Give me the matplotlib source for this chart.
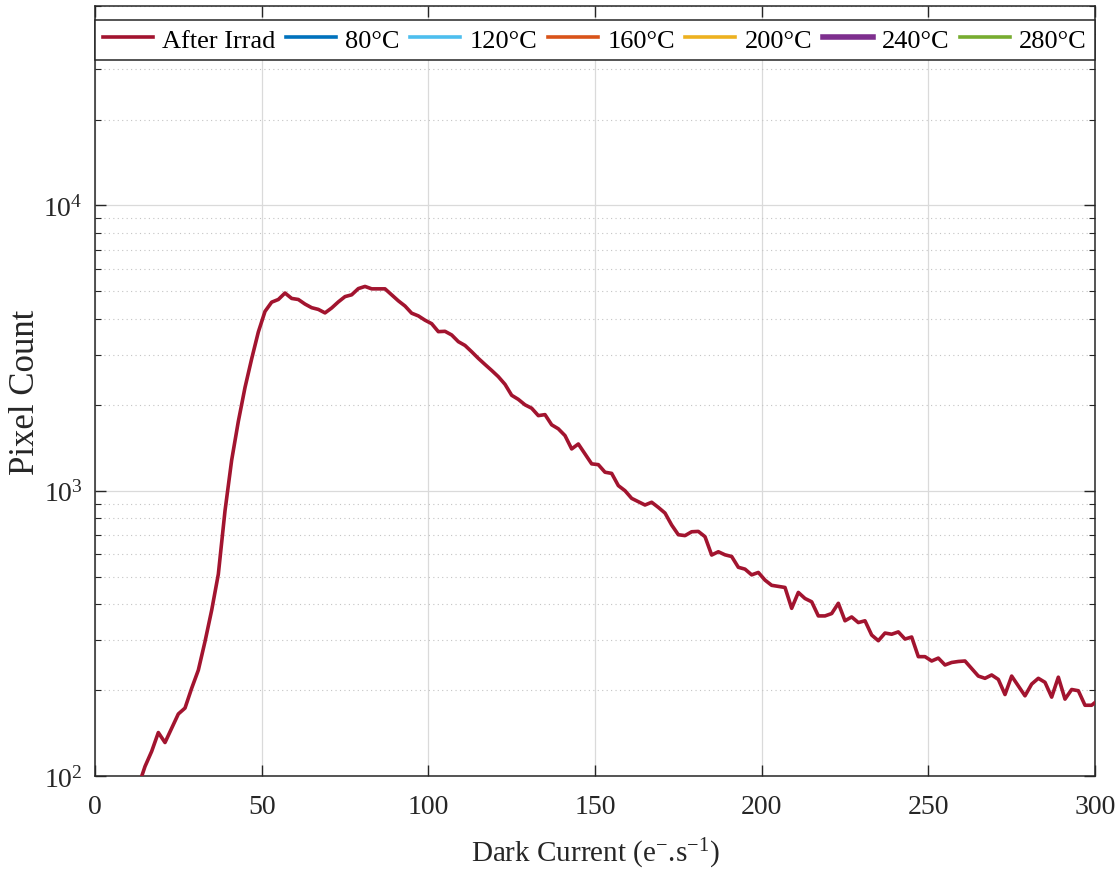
import matplotlib
matplotlib.use('Agg')
import matplotlib.pyplot as plt
from matplotlib.ticker import LogLocator, NullFormatter

plt.rcParams['font.family'] = ['Liberation Serif', 'DejaVu Serif']
plt.rcParams['mathtext.fontset'] = 'custom'
plt.rcParams['mathtext.rm'] = 'Liberation Serif'
plt.rcParams['mathtext.it'] = 'Liberation Serif:italic'

# ---------------- data ----------------
dark_current = [13, 15, 17, 19, 21, 23, 25, 27, 29, 31, 33, 35, 37, 39, 41, 43, 45, 47, 49,
                51, 53, 55, 57, 59, 61, 63, 65, 67, 69, 71, 73, 75, 77, 79, 81, 83, 85, 87, 89,
                91, 93, 95, 97, 99, 101, 103, 105, 107, 109, 111, 113, 115, 117, 119, 121, 123,
                125, 127, 129, 131, 133, 135, 137, 139, 141, 143, 145, 147, 149, 151, 153, 155,
                157, 159, 161, 163, 165, 167, 169, 171, 173, 175, 177, 179, 181, 183, 185, 187,
                189, 191, 193, 195, 197, 199, 201, 203, 205, 207, 209, 211, 213, 215, 217, 219,
                221, 223, 225, 227, 229, 231, 233, 235, 237, 239, 241, 243, 245, 247, 249, 251,
                253, 255, 257, 259, 261, 263, 265, 267, 269, 271, 273, 275, 277, 279, 281, 283,
                285, 287, 289, 291, 293, 295, 297, 299, 301]
pixel_count = [92, 108, 122, 142, 131, 147, 165, 173, 203, 235, 296, 381, 510, 850, 1280, 1750,
               2300, 2900, 3600, 4250, 4580, 4680, 4930, 4720, 4680, 4510, 4380, 4320, 4200,
               4370, 4590, 4790, 4860, 5110, 5200, 5100, 5100, 5100, 4860, 4630, 4440, 4190,
               4100, 3960, 3850, 3610, 3620, 3515, 3330, 3230, 3070, 2910, 2770, 2640, 2510,
               2360, 2160, 2090, 2000, 1946, 1833, 1848, 1702, 1648, 1560, 1401, 1458, 1346,
               1242, 1234, 1161, 1150, 1042, 1000, 940, 915, 891, 911, 874, 835, 758, 701, 696,
               718, 720, 690, 595, 611, 596, 588, 539, 531, 507, 517, 486, 466, 462, 458, 387,
               440, 419, 408, 364, 364, 371, 403, 350, 361, 345, 350, 312, 298, 317, 314, 320,
               302, 307, 262, 262, 253, 259, 245, 250, 252, 253, 238, 224, 220, 226, 218, 193,
               224, 207, 191, 210, 220, 213, 189, 222, 186, 201, 199, 177, 177, 185]

main_label = 'After Irrad'
anneal_labels = ['80°C', '120°C', '160°C', '200°C', '240°C', '280°C']
anneal_counts = [[], [], [], [], [], []]   # no annealing curves drawn in the figure
main_color = '#A2142F'
anneal_colors = ['#0072BD', '#4DBEEE', '#D95319', '#EDB120', '#7E2F8E', '#77AC30']
anneal_widths = [2.6, 2.6, 2.6, 2.6, 4.0, 2.6]

x_ticks = [0, 50, 100, 150, 200, 250, 300]

# ---------------- figure ----------------
W, H = 1115, 879
fig = plt.figure(figsize=(W / 100, H / 100), dpi=100)
ax = fig.add_axes([95 / W, 1 - 777 / H, 1000 / W, 770 / H])

ax.plot(dark_current, pixel_count, color=main_color, lw=2.6, label=main_label, zorder=3)
for lab, cnt, col, lw in zip(anneal_labels, anneal_counts, anneal_colors, anneal_widths):
    ax.plot(dark_current[:len(cnt)], cnt, color=col, lw=lw, label=lab)

ax.set_yscale('log')
ax.set_xlim(0, 300)
ax.set_ylim(100, 5e4)
ax.set_xticks(x_ticks)
ax.yaxis.set_major_locator(LogLocator(base=10, numticks=10))
ax.yaxis.set_minor_locator(LogLocator(base=10, subs=range(2, 10), numticks=20))
ax.yaxis.set_minor_formatter(NullFormatter())

ax.set_axisbelow(True)
ax.grid(True, which='major', color='#dadada', lw=0.9)
ax.grid(True, which='minor', axis='y', color='#c4c4c4', lw=0.8, linestyle=(0, (1, 3)))

ax.tick_params(which='both', direction='in', top=True, right=True,
               colors='#262626', labelsize=20)
ax.tick_params(which='major', length=8, width=1.0)
ax.tick_params(axis='x', which='major', pad=13)
ax.tick_params(axis='y', which='major', pad=9)
ax.tick_params(which='minor', length=4, width=0.8)
for s in ax.spines.values():
    s.set_color('#262626')
    s.set_linewidth(1.1)

ax.set_xlabel(r'Dark Current (e$^{\mathregular{-}}$.s$^{\mathregular{-1}}$)',
              fontsize=21, color='#262626', labelpad=12)
ax.set_ylabel('Pixel Count', fontsize=25, color='#262626', labelpad=1)

leg = ax.legend(loc='center', bbox_to_anchor=(0, 0.9286, 1, 0.0545), mode='expand',
                ncol=7, fontsize=19, frameon=True, fancybox=False, edgecolor='#262626',
                framealpha=1, borderaxespad=0, handlelength=1.9, handletextpad=0.35,
                columnspacing=0.3, borderpad=0.3)
leg.get_frame().set_linewidth(1.1)
leg.set_zorder(5)

fig.savefig('out.png', dpi=100)
